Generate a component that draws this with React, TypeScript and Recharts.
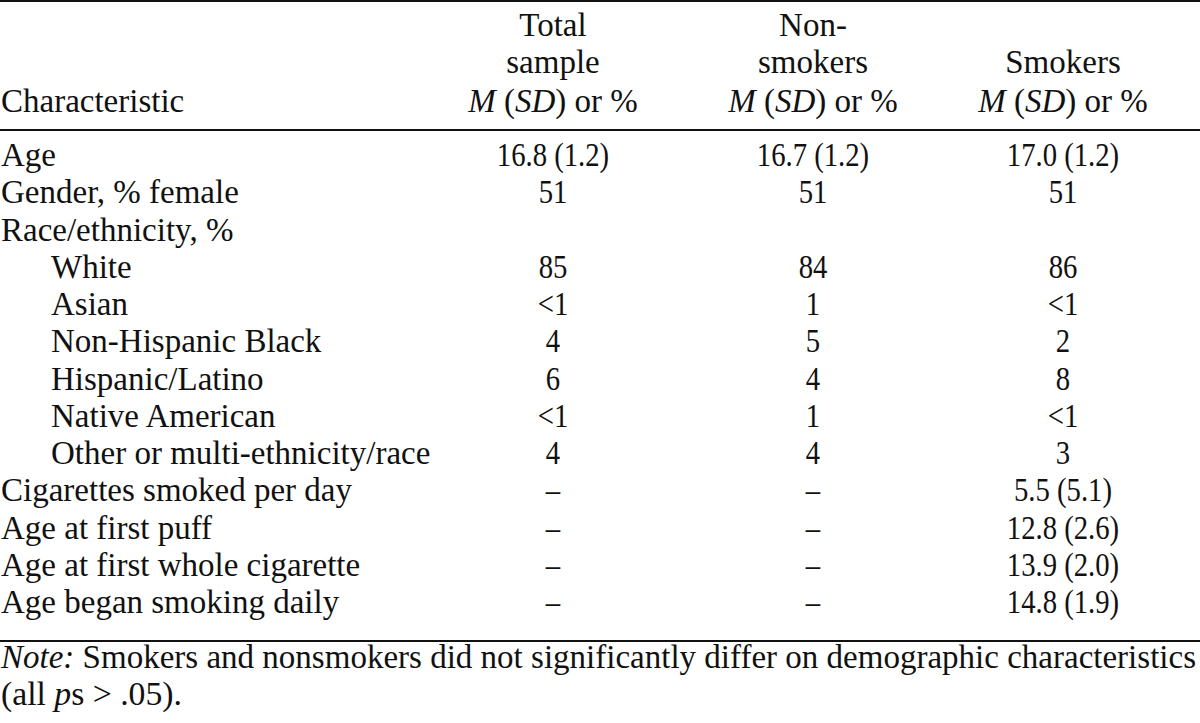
import React from "react";
import { ScatterChart, Scatter, XAxis, YAxis, Customized } from "recharts";

// ---------- data ----------
const rowLabels = [
  "Age",
  "Gender, % female",
  "Race/ethnicity, %",
  "White",
  "Asian",
  "Non-Hispanic Black",
  "Hispanic/Latino",
  "Native American",
  "Other or multi-ethnicity/race",
  "Cigarettes smoked per day",
  "Age at first puff",
  "Age at first whole cigarette",
  "Age began smoking daily",
];
const rowIndent = [0, 0, 0, 1, 1, 1, 1, 1, 1, 0, 0, 0, 0];
const totalSample = ["16.8 (1.2)", "51", "", "85", "<1", "4", "6", "<1", "4", "–", "–", "–", "–"];
const nonSmokers = ["16.7 (1.2)", "51", "", "84", "1", "5", "4", "1", "4", "–", "–", "–", "–"];
const smokers = ["17.0 (1.2)", "51", "", "86", "<1", "2", "8", "<1", "3", "5.5 (5.1)", "12.8 (2.6)", "13.9 (2.0)", "14.8 (1.9)"];
const headerLines = [
  ["", "", "Characteristic"],
  ["Total", "sample", "*M* (*SD*) or %"],
  ["Non-", "smokers", "*M* (*SD*) or %"],
  ["", "Smokers", "*M* (*SD*) or %"],
];
const noteLine1 = "*Note:* Smokers and nonsmokers did not significantly differ on demographic characteristics";
const noteLine2 = "(all *p*s > .05).";

// ---------- layout ----------
const W = 1200;
const H = 723;
const FONT = '"Liberation Serif", "Times New Roman", serif';
const FS = 33;
const INK = "#111";
const COL_X = [1, 553, 813, 1063];
const INDENT = 50;
const ROW_H = 37.25;
const PLOT_TOP = 137.4;
const PLOT_BOTTOM = PLOT_TOP + ROW_H * rowLabels.length;
const BASE_OFF = 10;
const HEADER_BASE = [36, 73, 112];
const RULES = [{ y: 1, w: 2 }, { y: 130, w: 2 }, { y: 641, w: 2 }];
const NOTE_BASE = [668, 705];
const NUM_SCALE = 0.87;

const renderRich = (s: string) =>
  s.split("*").map((part, i) =>
    part === "" ? null : (
      <tspan key={i} fontStyle={i % 2 === 1 ? "italic" : "normal"}>
        {part}
      </tspan>
    )
  );

const columns = [rowLabels, totalSample, nonSmokers, smokers];

const seriesData = columns.map((vals, c) =>
  vals.map((text, i) => ({
    x: c === 0 ? COL_X[0] + rowIndent[i] * INDENT : COL_X[c],
    y: i,
    text,
  }))
);

const LabelShape = (p: any) => (
  <text x={p.cx} y={p.cy + BASE_OFF} fontFamily={FONT} fontSize={FS} fill={INK} textAnchor="start">
    {p.payload.text}
  </text>
);

const ValueShape = (p: any) => (
  <text
    transform={`translate(${p.cx},${p.cy + BASE_OFF}) scale(${NUM_SCALE},1)`}
    x={0}
    y={0}
    fontFamily={FONT}
    fontSize={FS}
    fill={INK}
    textAnchor="middle"
  >
    {p.payload.text}
  </text>
);

const HeaderTick = (p: any) => {
  const idx = COL_X.indexOf(p.payload.value);
  if (idx < 0) return null;
  const lines = headerLines[idx];
  return (
    <g>
      {lines.map((ln, k) =>
        ln ? (
          <text
            key={k}
            x={p.x}
            y={HEADER_BASE[k]}
            fontFamily={FONT}
            fontSize={FS}
            fill={INK}
            textAnchor={idx === 0 ? "start" : "middle"}
          >
            {renderRich(ln)}
          </text>
        ) : null
      )}
    </g>
  );
};

const Chrome = () => (
  <g>
    {RULES.map((r, i) => (
      <line key={i} x1={0} x2={W} y1={r.y} y2={r.y} stroke={INK} strokeWidth={r.w} />
    ))}
    <text x={1} y={NOTE_BASE[0]} fontFamily={FONT} fontSize={FS} fill={INK} textLength={1195} lengthAdjust="spacingAndGlyphs">
      {renderRich(noteLine1)}
    </text>
    <text x={1} y={NOTE_BASE[1]} fontFamily={FONT} fontSize={FS} fill={INK} textLength={181} lengthAdjust="spacingAndGlyphs">
      {renderRich(noteLine2)}
    </text>
  </g>
);

export default function App() {
  return (
    <div style={{ position: "absolute", left: 0, top: 0, width: W, height: H, background: "#fff" }}>
      <ScatterChart width={W} height={H} margin={{ top: 0, right: 0, bottom: H - PLOT_BOTTOM, left: 0 }}>
        <XAxis
          type="number"
          dataKey="x"
          orientation="top"
          domain={[0, W]}
          ticks={COL_X}
          interval={0}
          height={PLOT_TOP}
          axisLine={false}
          tickLine={false}
          tick={(p: any) => <HeaderTick {...p} />}
        />
        <YAxis type="number" dataKey="y" domain={[-0.5, rowLabels.length - 0.5]} reversed hide />
        {seriesData.map((d, c) => (
          <Scatter
            key={c}
            data={d}
            isAnimationActive={false}
            shape={c === 0 ? LabelShape : ValueShape}
          />
        ))}
        <Customized component={Chrome} />
      </ScatterChart>
    </div>
  );
}
